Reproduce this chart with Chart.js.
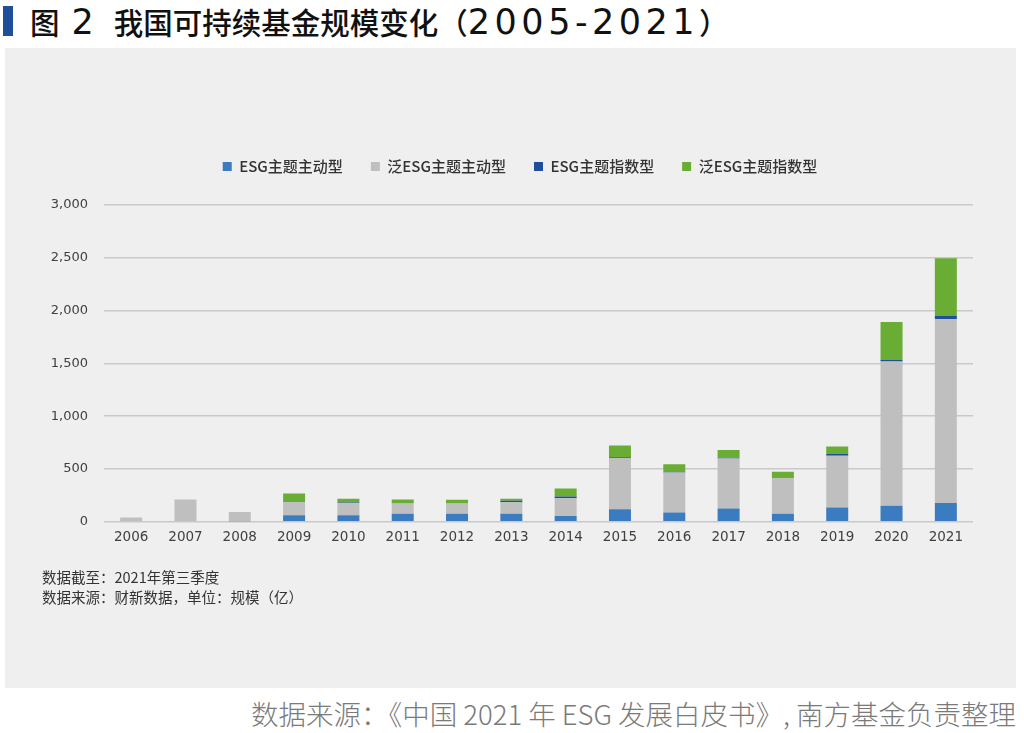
<!DOCTYPE html>
<html>
<head>
<meta charset="utf-8">
<script src="https://cdn.jsdelivr.net/npm/chart.js"></script>
<style>
  html, body { margin: 0; padding: 0; background: #fff; }
  body { width: 1024px; height: 733px; position: relative; overflow: hidden;
         font-family: "Noto Sans CJK SC", "Noto Sans", sans-serif; }
  #title { position: absolute; left: 3px; top: 3px; height: 36px; display: flex; align-items: center; white-space: nowrap; }
  #title .mark { width: 10px; height: 30px; background: #1f4f9b; margin-right: 17px; }
  #title .txt { font-size: 29.5px; font-weight: 500; color: #111; line-height: 36px; }
  #title .num { font-family: "DejaVu Sans", sans-serif; font-size: 35px; font-weight: normal; letter-spacing: 4.5px; }
  #panel { position: absolute; left: 5px; top: 48px; width: 1011px; height: 640px; background: #efefef; }
  #panel canvas { position: absolute; left: 0; top: 0; }
  .note { position: absolute; left: 37px; font-size: 14.5px; color: #333; white-space: nowrap; }
  #source { position: absolute; right: 8px; top: 693px; font-size: 27.5px; color: #7a7a7a; font-weight: 300; white-space: nowrap; }
</style>
</head>
<body>
<div id="title"><div class="mark"></div><div class="txt">图<span class="num" style="margin-left:12px;letter-spacing:0">2</span><span style="margin-left:20px">我国可持续基金规模变化</span>（<span class="num">2005-2021</span>）</div></div>
<div id="panel">
  <canvas id="chart" width="1011" height="640"></canvas>
  <div class="note" style="top:518px">数据截至：2021年第三季度</div>
  <div class="note" style="top:538px">数据来源：财新数据，单位：规模（亿）</div>
</div>
<div id="source">数据来源：《中国 2021 年 ESG 发展白皮书》, 南方基金负责整理</div>

<script>
// ---------- Data (规模, 亿) ----------
const years = ['2006', '2007', '2008', '2009', '2010', '2011', '2012', '2013',
               '2014', '2015', '2016', '2017', '2018', '2019', '2020', '2021'];

const esgActive    = [0, 0, 5, 63, 63, 76, 76, 76, 54, 120, 88, 126, 76, 135, 151, 177];
const panActive    = [40, 210, 87, 123, 114, 97, 97, 110, 170, 483, 379, 473, 338, 490, 1366, 1743];
const esgIndex     = [0, 0, 0, 2, 5, 2, 3, 13, 15, 8, 5, 5, 3, 16, 16, 29];
const panIndex     = [0, 0, 0, 81, 36, 35, 32, 19, 76, 111, 74, 75, 56, 72, 360, 546];

const yTicks = [0, 500, 1000, 1500, 2000, 2500, 3000];

const seriesNames = ['ESG主题主动型', '泛ESG主题主动型', 'ESG主题指数型', '泛ESG主题指数型'];
const seriesColors = ['#3b7bbf', '#bfbfbf', '#1f4f9b', '#6aad35'];

// ---------- Legend: gap below it, nudge to the right ----------
const legendTweak = {
  id: 'legendTweak',
  beforeInit(chart) {
    const fit = chart.legend.fit;
    chart.legend.fit = function () {
      fit.call(this);
      this.height += 21;
    };
  },
  afterLayout(chart) {
    chart.legend.left += 62;
    chart.legend.adjustHitBoxes();
  }
};

// ---------- Chart ----------
const datasets = [esgActive, panActive, esgIndex, panIndex].map((d, i) => ({
  label: seriesNames[i],
  data: d,
  backgroundColor: seriesColors[i],
  borderWidth: 0,
  barPercentage: 0.81,
  categoryPercentage: 0.5
}));

new Chart(document.getElementById('chart').getContext('2d'), {
  type: 'bar',
  data: { labels: years, datasets },
  plugins: [legendTweak],
  options: {
    responsive: false,
    animation: false,
    layout: { padding: { top: 83, right: 43, bottom: 134, left: 0 } },
    plugins: {
      legend: {
        display: true,
        labels: {
          boxWidth: 9,
          boxHeight: 9,
          padding: 28,
          color: '#333',
          font: { family: '"Noto Sans CJK SC", sans-serif', size: 15, weight: '500' }
        }
      },
      tooltip: { enabled: false }
    },
    scales: {
      x: {
        stacked: true,
        grid: { display: false, drawTicks: false },
        border: { display: false },
        ticks: { color: '#404040', padding: 8, font: { family: '"DejaVu Sans", sans-serif', size: 13.5 } }
      },
      y: {
        stacked: true,
        min: 0,
        max: 3000,
        afterBuildTicks: (axis) => { axis.ticks = yTicks.map(v => ({ value: v })); },
        afterFit: (axis) => { axis.width = 99; },
        grid: { color: '#c9c9c9', lineWidth: 1.5, drawTicks: false },
        border: { display: false },
        ticks: {
          color: '#404040',
          padding: 16,
          font: { family: '"DejaVu Sans", sans-serif', size: 13 },
          callback: (v) => v.toLocaleString('en-US')
        }
      }
    }
  }
});
</script>
</body>
</html>
